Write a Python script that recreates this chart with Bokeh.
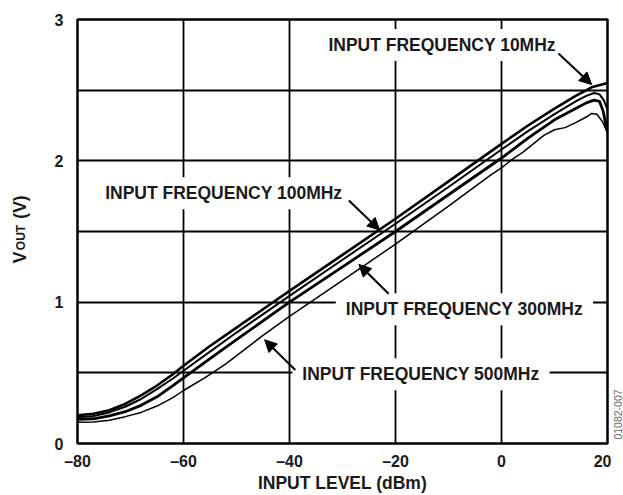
import math
from bokeh.plotting import figure
from bokeh.layouts import row
from bokeh.models import Label, Arrow, NormalHead, FixedTicker, Range1d
from bokeh.core.properties import value
from bokeh.embed import file_html
from bokeh.resources import INLINE

# ---- data ----
x_10 = [-80, -77, -74, -71, -68, -65, -62, -60, -55, -50, -40, -30, -20, -10, 0, 5, 10, 14, 17, 20]
y_10 = [0.20, 0.21, 0.235, 0.28, 0.34, 0.41, 0.49, 0.55, 0.69, 0.82, 1.08, 1.335, 1.59, 1.855, 2.12, 2.25, 2.37, 2.46, 2.52, 2.55]

x_100 = [-80, -77, -74, -71, -68, -65, -62, -60, -55, -50, -40, -30, -20, -10, 0, 5, 10, 14, 16, 17.5, 18.5, 19.3, 20]
y_100 = [0.185, 0.195, 0.22, 0.26, 0.315, 0.385, 0.46, 0.515, 0.65, 0.785, 1.045, 1.30, 1.555, 1.815, 2.08, 2.21, 2.33, 2.42, 2.46, 2.48, 2.47, 2.43, 2.36]

x_300 = [-80, -77, -74, -71, -68, -65, -62, -60, -55, -50, -40, -30, -20, -10, 0, 5, 10, 14, 16, 17.5, 18.5, 19.2, 19.6, 20]
y_300 = [0.17, 0.175, 0.195, 0.225, 0.27, 0.33, 0.41, 0.465, 0.60, 0.735, 1.0, 1.25, 1.5, 1.76, 2.02, 2.16, 2.29, 2.37, 2.41, 2.43, 2.42, 2.35, 2.27, 2.21]

x_500 = [-80, -77, -74, -71, -68, -65, -62, -60, -56, -52, -45, -40, -30, -20, -10, -2, 0, 2, 4, 6, 8, 10, 12, 14, 16, 17, 18, 19, 20]
y_500 = [0.15, 0.152, 0.165, 0.19, 0.22, 0.265, 0.325, 0.375, 0.465, 0.564, 0.765, 0.90, 1.155, 1.41, 1.68, 1.90, 1.95, 2.01, 2.06, 2.12, 2.18, 2.22, 2.235, 2.27, 2.31, 2.335, 2.33, 2.28, 2.20]

x_ticks = [-80, -60, -40, -20, 0, 20]
x_tick_labels = ["\u201380", "\u201360", "\u201340", "\u201320", "0", "20"]
y_ticks = [0, 1, 2, 3]
y_tick_labels = ["0", "1", "2", "3"]
x_grid = [-60, -40, -20, 0]
y_grid = [0.5, 1, 1.5, 2, 2.5]

x_title = "INPUT LEVEL (dBm)"
y_title_parts = ["V", "OUT", "(V)"]
fig_code = "01082-007"

label_texts = ["INPUT FREQUENCY 10MHz", "INPUT FREQUENCY 100MHz",
               "INPUT FREQUENCY 300MHz", "INPUT FREQUENCY 500MHz"]
label_x = [-11.2, -52.4, -7.0, -15.2]
label_y = [2.82, 1.77, 0.95, 0.49]

arrow_x0 = [10.75, -28.8, -21.3, -38.9]
arrow_y0 = [2.76, 1.72, 1.06, 0.52]
arrow_x1 = [17.0, -23.0, -26.9, -44.7]
arrow_y1 = [2.54, 1.51, 1.267, 0.734]

FONT = "Liberation Sans"
INK = "#1a1a1a"
H = 495
TOP, BOTTOM = 19, 52

# ---- main chart ----
p = figure(width=571, height=H, x_range=Range1d(-80, 20), y_range=Range1d(0, 3),
           output_backend="svg", toolbar_location=None, title=None,
           min_border_left=37, min_border_right=4, min_border_top=TOP, min_border_bottom=BOTTOM)

p.background_fill_color = "white"
p.border_fill_color = "white"
p.outline_line_color = "black"
p.outline_line_width = 2.5

p.xaxis.ticker = FixedTicker(ticks=x_ticks)
p.xaxis.major_label_overrides = {t: l for t, l in zip(x_ticks, x_tick_labels)}
p.yaxis.ticker = FixedTicker(ticks=y_ticks)
p.yaxis.major_label_overrides = {t: l for t, l in zip(y_ticks, y_tick_labels)}
for ax in (p.xaxis, p.yaxis):
    ax.axis_line_color = None
    ax.major_tick_line_color = None
    ax.minor_tick_line_color = None
    ax.major_label_text_font = FONT
    ax.major_label_text_font_style = "bold"
    ax.major_label_text_font_size = "16px"
    ax.major_label_text_color = INK
p.xaxis.major_label_standoff = 3
p.yaxis.major_label_standoff = 8

p.xaxis.axis_label = x_title
p.xaxis.axis_label_text_font = FONT
p.xaxis.axis_label_text_font_style = "bold"
p.xaxis.axis_label_text_font_size = "17.5px"
p.xaxis.axis_label_text_color = INK
p.xaxis.axis_label_standoff = 0

p.xgrid.ticker = FixedTicker(ticks=x_grid)
p.ygrid.ticker = FixedTicker(ticks=y_grid)
for g in (p.xgrid, p.ygrid):
    g.grid_line_color = "black"
    g.grid_line_width = 1.8
    g.grid_line_alpha = 1.0

p.line(x_500, y_500, line_color="black", line_width=1.5)
p.line(x_300, y_300, line_color="black", line_width=2.8)
p.line(x_100, y_100, line_color="black", line_width=2.0)
p.line(x_10, y_10, line_color="black", line_width=2.6)

for t, lx, ly in zip(label_texts, label_x, label_y):
    p.add_layout(Label(x=lx, y=ly, text=t, text_font=FONT, text_font_style="bold",
                       text_font_size="17.5px", text_color=INK,
                       text_align="center", text_baseline="middle",
                       background_fill_color="white",
                       padding=dict(left=10, right=10, top=6, bottom=6)))

for xs, ys, xe, ye in zip(arrow_x0, arrow_y0, arrow_x1, arrow_y1):
    p.add_layout(Arrow(end=NormalHead(size=12, fill_color="black", line_color="black"),
                       x_start=xs, y_start=ys, x_end=xe, y_end=ye,
                       line_color="black", line_width=2))

# side strips: same top/bottom borders as the chart, y measured in page px from the bottom
def strip(width):
    f = figure(width=width, height=H, x_range=Range1d(0, width), y_range=Range1d(BOTTOM, H - TOP),
               output_backend="svg", toolbar_location=None, title=None,
               min_border_left=0, min_border_right=0, min_border_top=TOP, min_border_bottom=BOTTOM,
               x_axis_location=None, y_axis_location=None)
    f.outline_line_color = None
    f.grid.visible = False
    return f

# ---- left strip holding the rotated y title V_OUT (V) ----
lf = strip(40)
lf.text(x=[19, 19], y=[H - 257, H - 206.5], text=[y_title_parts[0], y_title_parts[2]],
        angle=math.pi / 2, text_font=value(FONT), text_font_style="bold",
        text_font_size="17.5px", text_color=INK, text_align="center", text_baseline="middle")
lf.text(x=[20], y=[H - 237], text=[y_title_parts[1]],
        angle=math.pi / 2, text_font=value(FONT), text_font_style="bold",
        text_font_size="12px", text_color=INK, text_align="center", text_baseline="middle")

# ---- right strip holding the figure code ----
rf = strip(12)
rf.text(x=[6], y=[H - 414], text=[fig_code], angle=math.pi / 2, text_font=value(FONT),
        text_font_size="10.5px", text_color="#666666", text_align="center", text_baseline="middle")

layout = row(lf, p, rf, spacing=0)
open("out.html", "w").write(file_html(layout, INLINE))
